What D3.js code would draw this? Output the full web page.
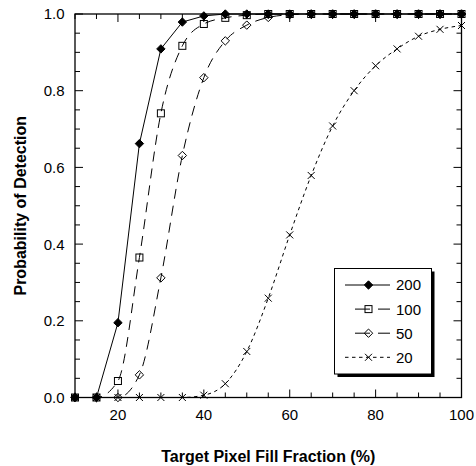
<!DOCTYPE html>
<html>
<head>
<meta charset="utf-8">
<script src="https://cdn.jsdelivr.net/npm/d3@7"></script>
<style>
  body { margin: 0; background: #fff; }
  svg { font-family: "Liberation Sans", Arial, sans-serif; }
</style>
</head>
<body>
<svg id="chart" width="476" height="466"></svg>
<script>
// fill fraction (%) sampled every 5
const fillFraction = [10, 15, 20, 25, 30, 35, 40, 45, 50, 55, 60, 65, 70, 75, 80, 85, 90, 95, 100];

const p200 = [0, 0, 0.195, 0.662, 0.909, 0.979, 0.995, 1, 1, 1, 1, 1, 1, 1, 1, 1, 1, 1, 1];
const p100 = [0, 0, 0.043, 0.365, 0.741, 0.917, 0.974, 0.99, 0.997, 1, 1, 1, 1, 1, 1, 1, 1, 1, 1];
const p50  = [0, 0, 0, 0.059, 0.312, 0.631, 0.834, 0.93, 0.971, 0.991, 0.998, 1, 1, 1, 1, 1, 1, 1, 1];
const p20  = [0, 0, 0, 0, 0, 0, 0.006, 0.036, 0.12, 0.259, 0.424, 0.579, 0.708, 0.80, 0.865, 0.909, 0.942, 0.96, 0.97];

const seriesNames = ["200", "100", "50", "20"];
const xTicks = [20, 40, 60, 80, 100];
const yTicks = [0, 0.2, 0.4, 0.6, 0.8, 1.0];

const series = [
  { name: seriesNames[0], values: p200, dash: null, legendDash: null, marker: "diamondFilled", curve: d3.curveLinear },
  { name: seriesNames[1], values: p100, dash: "10,7", legendDash: "15,8", marker: "square", curve: d3.curveMonotoneX },
  { name: seriesNames[2], values: p50, dash: "10,7", legendDash: "15,8", marker: "diamond", curve: d3.curveMonotoneX },
  { name: seriesNames[3], values: p20, dash: "3.5,3.5", legendDash: "3.5,3.5", marker: "cross", curve: d3.curveMonotoneX }
];

const svg = d3.select("#chart");
const plotLeft = 75, plotRight = 461.5, plotTop = 14, plotBottom = 397.5;

const x = d3.scaleLinear().domain([10, 100]).range([plotLeft, plotRight]);
const y = d3.scaleLinear().domain([0, 1]).range([plotBottom, plotTop]);

// inward ticks on all four sides
const minorX = d3.range(10, 100.1, 5);
const minorY = d3.range(0, 1.001, 0.05);
const tickG = svg.append("g").attr("stroke", "#000").attr("stroke-width", 1);
minorX.forEach(v => {
  const len = v % 20 === 0 ? 8 : 5;
  tickG.append("line").attr("x1", x(v)).attr("x2", x(v)).attr("y1", plotBottom).attr("y2", plotBottom - len);
  tickG.append("line").attr("x1", x(v)).attr("x2", x(v)).attr("y1", plotTop).attr("y2", plotTop + len);
});
minorY.forEach(v => {
  const major = Math.abs(Math.round(v * 5) - v * 5) < 1e-6;
  const len = major ? 8 : 5;
  tickG.append("line").attr("x1", plotLeft).attr("x2", plotLeft + len).attr("y1", y(v)).attr("y2", y(v));
  tickG.append("line").attr("x1", plotRight).attr("x2", plotRight - len).attr("y1", y(v)).attr("y2", y(v));
});

svg.append("rect")
  .attr("x", plotLeft).attr("y", plotTop)
  .attr("width", plotRight - plotLeft).attr("height", plotBottom - plotTop)
  .attr("fill", "none").attr("stroke", "#000").attr("stroke-width", 1.3);

// tick labels
svg.append("g").selectAll("text").data(xTicks).join("text")
  .attr("x", d => x(d)).attr("y", 419.5)
  .attr("text-anchor", "middle").attr("font-size", 15)
  .text(d => d);

svg.append("g").selectAll("text").data(yTicks).join("text")
  .attr("x", 64.5).attr("y", d => y(d) + 5.4)
  .attr("text-anchor", "end").attr("font-size", 15)
  .text(d => d.toFixed(1));

// axis titles
svg.append("text")
  .attr("x", (plotLeft + plotRight) / 2).attr("y", 461.5)
  .attr("text-anchor", "middle").attr("font-size", 16).attr("font-weight", "bold")
  .text("Target Pixel Fill Fraction (%)");

svg.append("text")
  .attr("transform", `translate(25.5,${(plotTop + plotBottom) / 2}) rotate(-90)`)
  .attr("text-anchor", "middle").attr("font-size", 16).attr("font-weight", "bold")
  .text("Probability of Detection");

function drawMarker(g, type, cx, cy) {
  if (type === "diamondFilled" || type === "diamond") {
    const r = 4.2;
    g.append("path")
      .attr("d", `M${cx},${cy - r}L${cx + r},${cy}L${cx},${cy + r}L${cx - r},${cy}Z`)
      .attr("fill", type === "diamondFilled" ? "#000" : "none")
      .attr("stroke", "#000").attr("stroke-width", 1);
  } else if (type === "square") {
    const r = 3.5;
    g.append("rect").attr("x", cx - r).attr("y", cy - r).attr("width", 2 * r).attr("height", 2 * r)
      .attr("fill", "none").attr("stroke", "#000").attr("stroke-width", 1);
  } else if (type === "cross") {
    const r = 3.5;
    g.append("path")
      .attr("d", `M${cx - r},${cy - r}L${cx + r},${cy + r}M${cx - r},${cy + r}L${cx + r},${cy - r}`)
      .attr("stroke", "#000").attr("stroke-width", 1);
  }
}

// draw series in reverse so 200 sits on top
series.slice().reverse().forEach(s => {
  const pts = fillFraction.map((f, i) => [f, s.values[i]]);
  const line = d3.line().x(d => x(d[0])).y(d => y(d[1])).curve(s.curve);
  svg.append("path")
    .attr("d", line(pts))
    .attr("fill", "none").attr("stroke", "#000").attr("stroke-width", 1)
    .attr("stroke-dasharray", s.dash);
  const mg = svg.append("g");
  pts.forEach(d => drawMarker(mg, s.marker, x(d[0]), y(d[1])));
});

// legend with drop shadow
const lx = 334.5, ly = 268.5, lw = 97, lh = 105.5;
svg.append("rect").attr("x", lx + 3).attr("y", ly + 3).attr("width", lw).attr("height", lh).attr("fill", "#000");
svg.append("rect").attr("x", lx).attr("y", ly).attr("width", lw).attr("height", lh)
  .attr("fill", "#fff").attr("stroke", "#000").attr("stroke-width", 1);

series.forEach((s, i) => {
  const ry = 285 + i * 24.1;
  const g = svg.append("g");
  const x1 = (s.legendDash === "15,8") ? 355 : 345;
  g.append("line").attr("x1", x1).attr("x2", 390).attr("y1", ry).attr("y2", ry)
    .attr("stroke", "#000").attr("stroke-width", 1)
    .attr("stroke-dasharray", s.legendDash);
  drawMarker(g, s.marker, 368.5, ry);
  g.append("text").attr("x", 396).attr("y", ry + 5.4).attr("font-size", 15).text(s.name);
});
</script>
</body>
</html>
